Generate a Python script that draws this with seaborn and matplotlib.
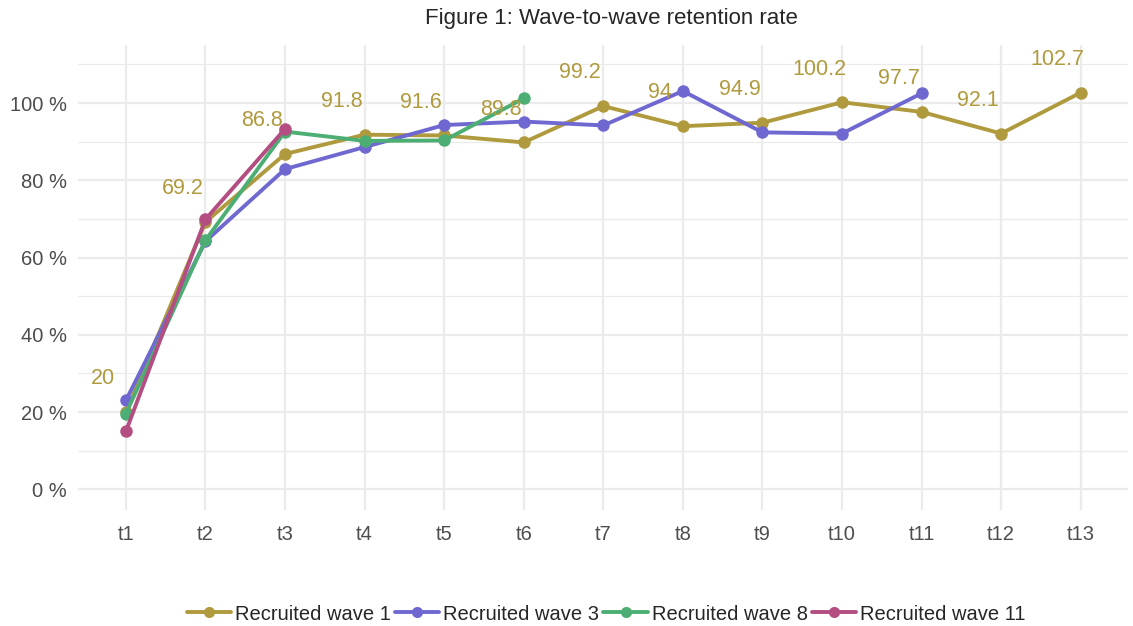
import pandas as pd
import matplotlib.pyplot as plt
import seaborn as sns
from matplotlib.lines import Line2D

# Data
periods = ["t1", "t2", "t3", "t4", "t5", "t6", "t7", "t8", "t9", "t10", "t11", "t12", "t13"]
wave1 = [20, 69.2, 86.8, 91.8, 91.6, 89.8, 99.2, 94, 94.9, 100.2, 97.7, 92.1, 102.7]
wave3 = [23.0, 64.2, 82.9, 88.6, 94.3, 95.2, 94.2, 103.1, 92.4, 92.1, 102.5]
wave8 = [19.6, 64.5, 92.6, 90.2, 90.3, 101.2]
wave11 = [15.0, 69.9, 93.3]

series = {
    "Recruited wave 1": wave1,
    "Recruited wave 3": wave3,
    "Recruited wave 8": wave8,
    "Recruited wave 11": wave11,
}
colors = ["#B09A3E", "#6F68D1", "#4DAE74", "#B34D82"]

rows = []
for name, vals in series.items():
    for p, v in zip(periods, vals):
        rows.append({"period": p, "rate": v, "wave": name})
df = pd.DataFrame(rows)
df["x"] = df["period"].map({p: i for i, p in enumerate(periods)})

sns.set_theme(style="whitegrid")
plt.rcParams["font.family"] = ["Liberation Sans", "DejaVu Sans"]

fig = plt.figure(figsize=(11.33, 6.26), dpi=100)
ax = fig.add_axes([0.069, 0.185, 0.927, 0.743])

sns.lineplot(data=df, x="x", y="rate", hue="wave", palette=colors,
             marker="o", markersize=9, markeredgewidth=0, linewidth=2.8,
             legend=False, ax=ax)

# labels for wave 1
for i, v in enumerate(wave1):
    ax.text(i - 0.29, v + 8.6, f"{v:g}", color=colors[0], fontsize=15.5,
            ha="center", va="center")

ax.set_xlim(-0.6, len(periods) - 0.4)
ax.set_ylim(-5.4, 115)
ax.set_xticks(range(len(periods)))
ax.set_xticklabels(periods)
ax.set_yticks([0, 20, 40, 60, 80, 100])
ax.set_yticklabels([f"{t} %" for t in [0, 20, 40, 60, 80, 100]])
ax.set_yticks([10, 30, 50, 70, 90, 110], minor=True)
ax.grid(True, which="major", color="#EBEBEB", linewidth=1.6)
ax.grid(True, which="minor", axis="y", color="#EBEBEB", linewidth=0.9)
ax.set_facecolor("white")
for s in ax.spines.values():
    s.set_visible(False)
ax.tick_params(axis="both", labelsize=14.5, colors="#4D4D4D", length=0)
ax.tick_params(axis="x", pad=11)
ax.tick_params(axis="y", pad=8)
ax.set_xlabel("")
ax.set_ylabel("")
ax.set_title("Figure 1: Wave-to-wave retention rate", fontsize=16, pad=15, x=0.508)

handles = [Line2D([0], [0], color=c, marker="o", markersize=8, linewidth=2.8,
                  markeredgewidth=0) for c in colors]
fig.legend(handles, list(series.keys()), loc="lower center", ncol=4,
           bbox_to_anchor=(0.535, -0.025), frameon=False, fontsize=14.5,
           handlelength=2.2, handletextpad=0.2, columnspacing=0.2)

fig.savefig("out.png", dpi=100)
